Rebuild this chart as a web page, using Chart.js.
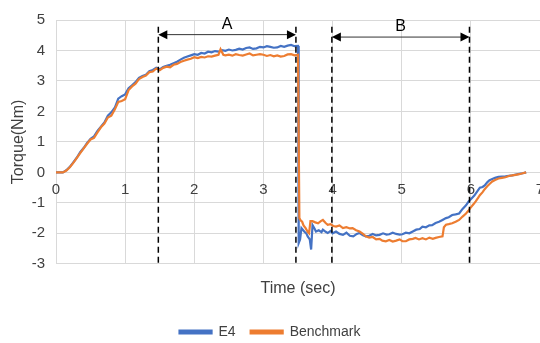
<!DOCTYPE html>
<html>
<head>
<meta charset="utf-8">
<script src="https://cdn.jsdelivr.net/npm/chart.js@4"></script>
<style>
html, body { margin: 0; padding: 0; background: #fff; }
#wrap { width: 540px; height: 343px; }
</style>
</head>
<body>
<div id="wrap"><canvas id="torqueChart"></canvas></div>
<script>
// Torque vs time, E4 against Benchmark
const seriesNames = ['E4', 'Benchmark'];
const seriesColors = ['#4472C4', '#ED7D31'];
const xTicks = [0, 1, 2, 3, 4, 5, 6, 7];
const yTicks = [-3, -2, -1, 0, 1, 2, 3, 4, 5];

// [time (sec), torque (Nm)]
const e4Points = [
  [0, 0], [0.05, 0], [0.1, 0], [0.15, 0.07], [0.2, 0.18], [0.25, 0.33], [0.3, 0.48], [0.35, 0.66],
  [0.4, 0.8], [0.45, 0.97], [0.5, 1.1], [0.55, 1.18], [0.6, 1.36], [0.65, 1.5], [0.7, 1.64], [0.75, 1.86],
  [0.8, 1.97], [0.85, 2.12], [0.9, 2.42], [0.95, 2.5], [1.0, 2.56], [1.05, 2.76], [1.1, 2.86], [1.15, 2.96],
  [1.2, 3.1], [1.25, 3.16], [1.3, 3.2], [1.35, 3.32], [1.4, 3.36], [1.45, 3.43], [1.5, 3.38], [1.55, 3.46],
  [1.6, 3.5], [1.65, 3.53], [1.7, 3.58], [1.75, 3.63], [1.8, 3.7], [1.85, 3.76], [1.9, 3.8], [1.95, 3.84],
  [2.0, 3.88], [2.05, 3.86], [2.1, 3.92], [2.15, 3.9], [2.2, 3.96], [2.25, 3.94], [2.3, 3.98], [2.35, 3.96],
  [2.4, 4.01], [2.45, 3.99], [2.5, 4.03], [2.55, 4.0], [2.6, 4.02], [2.65, 4.06], [2.7, 4.03], [2.75, 4.08],
  [2.8, 4.1], [2.85, 4.05], [2.9, 4.07], [2.95, 4.12], [3.0, 4.1], [3.05, 4.14], [3.1, 4.12], [3.15, 4.09],
  [3.2, 4.1], [3.25, 4.15], [3.3, 4.12], [3.35, 4.16], [3.4, 4.18], [3.45, 4.14], [3.5, 4.15],
  [3.51, -2.32], [3.53, -2.2], [3.55, -1.83], [3.59, -1.94], [3.62, -2.0], [3.64, -2.1], [3.67, -2.2],
  [3.69, -2.53], [3.71, -1.73], [3.74, -1.85], [3.76, -1.94], [3.8, -1.9], [3.84, -1.96], [3.86, -1.88],
  [3.9, -1.95], [3.93, -1.99], [3.97, -1.92], [4.0, -2.0], [4.05, -1.94], [4.1, -2.02], [4.15, -2.05],
  [4.2, -1.98], [4.25, -2.08], [4.3, -2.1], [4.35, -2.02], [4.39, -1.99], [4.44, -2.06], [4.48, -2.1],
  [4.53, -2.08], [4.58, -2.02], [4.63, -2.07], [4.68, -2.05], [4.73, -2.0], [4.78, -2.04], [4.82, -2.03],
  [4.87, -1.98], [4.92, -2.02], [4.97, -2.04], [5.01, -2.03], [5.06, -1.98], [5.11, -2.0], [5.16, -1.94],
  [5.21, -1.88], [5.26, -1.86], [5.3, -1.78], [5.35, -1.8], [5.4, -1.74], [5.44, -1.73], [5.49, -1.66],
  [5.54, -1.62], [5.59, -1.56], [5.64, -1.5], [5.68, -1.47], [5.73, -1.4], [5.78, -1.38], [5.83, -1.35],
  [5.88, -1.2], [5.93, -1.08], [5.97, -0.95], [6.0, -0.88], [6.05, -0.76], [6.1, -0.6], [6.13, -0.5],
  [6.17, -0.48], [6.2, -0.43], [6.24, -0.32], [6.27, -0.26], [6.31, -0.22], [6.35, -0.18], [6.4, -0.15],
  [6.45, -0.14], [6.5, -0.13], [6.55, -0.11], [6.6, -0.1], [6.65, -0.07], [6.7, -0.05], [6.75, -0.03], [6.8, 0]
];

const benchPoints = [
  [0, 0], [0.05, 0], [0.1, 0], [0.15, 0.06], [0.2, 0.17], [0.25, 0.31], [0.3, 0.47], [0.35, 0.63],
  [0.4, 0.79], [0.45, 0.94], [0.5, 1.08], [0.55, 1.13], [0.6, 1.31], [0.65, 1.48], [0.7, 1.6], [0.75, 1.8],
  [0.8, 1.86], [0.85, 2.06], [0.9, 2.31], [0.95, 2.34], [1.0, 2.4], [1.05, 2.7], [1.1, 2.82], [1.15, 2.91],
  [1.2, 3.06], [1.25, 3.13], [1.3, 3.18], [1.35, 3.29], [1.4, 3.31], [1.45, 3.41], [1.5, 3.35], [1.55, 3.43],
  [1.6, 3.47], [1.65, 3.45], [1.7, 3.53], [1.75, 3.56], [1.8, 3.62], [1.85, 3.66], [1.9, 3.7], [1.95, 3.73],
  [2.0, 3.78], [2.05, 3.75], [2.1, 3.79], [2.15, 3.77], [2.2, 3.81], [2.25, 3.8], [2.3, 3.83], [2.35, 3.86],
  [2.38, 4.04], [2.42, 3.86], [2.45, 3.84], [2.5, 3.86], [2.55, 3.83], [2.6, 3.88], [2.65, 3.85], [2.7, 3.83],
  [2.75, 3.87], [2.8, 3.9], [2.85, 3.84], [2.9, 3.86], [2.95, 3.88], [3.0, 3.86], [3.05, 3.82], [3.1, 3.85],
  [3.15, 3.81], [3.2, 3.84], [3.25, 3.8], [3.3, 3.82], [3.35, 3.87], [3.4, 3.88], [3.45, 3.84], [3.5, 3.86],
  [3.52, -1.5], [3.54, -1.58], [3.56, -1.62], [3.58, -1.74], [3.61, -1.83], [3.64, -1.95], [3.66, -2.0],
  [3.68, -1.6], [3.71, -1.6], [3.75, -1.64], [3.79, -1.67], [3.83, -1.6], [3.86, -1.56], [3.9, -1.66],
  [3.93, -1.72], [3.97, -1.7], [4.01, -1.76], [4.05, -1.78], [4.1, -1.74], [4.15, -1.83], [4.2, -1.8],
  [4.25, -1.84], [4.29, -1.83], [4.34, -1.9], [4.39, -1.94], [4.44, -2.02], [4.48, -2.1], [4.53, -2.14],
  [4.58, -2.12], [4.63, -2.2], [4.68, -2.18], [4.72, -2.24], [4.77, -2.26], [4.82, -2.22], [4.87, -2.27],
  [4.92, -2.24], [4.97, -2.2], [5.01, -2.26], [5.06, -2.26], [5.11, -2.2], [5.16, -2.18], [5.2, -2.15],
  [5.25, -2.2], [5.3, -2.16], [5.35, -2.2], [5.4, -2.14], [5.45, -2.18], [5.49, -2.15], [5.54, -2.12],
  [5.59, -2.1], [5.61, -1.8], [5.64, -1.72], [5.68, -1.7], [5.73, -1.67], [5.78, -1.62], [5.83, -1.56],
  [5.88, -1.45], [5.93, -1.35], [5.97, -1.24], [6.0, -1.15], [6.04, -1.04], [6.07, -0.95], [6.1, -0.85],
  [6.13, -0.75], [6.17, -0.65], [6.2, -0.55], [6.24, -0.45], [6.27, -0.38], [6.31, -0.3], [6.35, -0.25],
  [6.4, -0.2], [6.45, -0.18], [6.5, -0.16], [6.55, -0.12], [6.6, -0.1], [6.65, -0.08], [6.7, -0.06],
  [6.75, -0.03], [6.8, 0]
];

// dashed boundaries and the A / B spans
const dashTimes = [1.48, 3.47, 3.99, 5.98];
const dashTop = 4.78;
const spanLabels = ['A', 'B'];
const spanStart = [1.48, 3.99];
const spanEnd = [3.47, 5.98];
const spanLevel = [4.52, 4.44];

const textColor = '#404040';
const gridColor = '#d9d9d9';
const fontFamily = '"Liberation Sans", Arial, sans-serif';
Chart.defaults.font.family = fontFamily;
Chart.defaults.color = textColor;

const toXY = pts => pts.map(p => ({ x: p[0], y: p[1] }));

const markers = {
  id: 'markers',
  afterDatasetsDraw(chart) {
    const { ctx, scales: { x, y } } = chart;
    ctx.save();
    ctx.strokeStyle = '#000';
    ctx.lineWidth = 1.5;
    ctx.setLineDash([6, 4]);
    dashTimes.forEach(t => {
      const px = x.getPixelForValue(t);
      ctx.beginPath();
      ctx.moveTo(px, y.getPixelForValue(dashTop));
      ctx.lineTo(px, y.getPixelForValue(-3));
      ctx.stroke();
    });
    ctx.setLineDash([]);
    ctx.lineWidth = 1;
    spanLabels.forEach((lab, i) => {
      const x1 = x.getPixelForValue(spanStart[i]);
      const x2 = x.getPixelForValue(spanEnd[i]);
      const py = y.getPixelForValue(spanLevel[i]);
      ctx.strokeStyle = '#333';
      ctx.beginPath();
      ctx.moveTo(x1 + 8, py);
      ctx.lineTo(x2 - 8, py);
      ctx.stroke();
      ctx.fillStyle = '#000';
      ctx.beginPath();
      ctx.moveTo(x1, py); ctx.lineTo(x1 + 9, py - 4.5); ctx.lineTo(x1 + 9, py + 4.5); ctx.closePath();
      ctx.fill();
      ctx.beginPath();
      ctx.moveTo(x2, py); ctx.lineTo(x2 - 9, py - 4.5); ctx.lineTo(x2 - 9, py + 4.5); ctx.closePath();
      ctx.fill();
      ctx.font = '16px ' + fontFamily;
      ctx.textAlign = 'center';
      ctx.textBaseline = 'bottom';
      ctx.fillStyle = '#000';
      ctx.fillText(lab, (x1 + x2) / 2, py - 2);
    });
    ctx.restore();
  },
  afterDraw(chart) {
    const { ctx, chartArea } = chart;
    ctx.save();
    ctx.translate(19, (chartArea.top + chartArea.bottom) / 2);
    ctx.rotate(-Math.PI / 2);
    ctx.font = '16px ' + fontFamily;
    ctx.fillStyle = textColor;
    ctx.textAlign = 'center';
    ctx.textBaseline = 'middle';
    ctx.fillText('Torque(Nm)', 0, 0);
    ctx.restore();
  }
};

new Chart(document.getElementById('torqueChart'), {
  type: 'line',
  data: {
    datasets: [
      { label: seriesNames[0], data: toXY(e4Points), borderColor: seriesColors[0], backgroundColor: seriesColors[0], order: 1 },
      { label: seriesNames[1], data: toXY(benchPoints), borderColor: seriesColors[1], backgroundColor: seriesColors[1], order: 0 }
    ]
  },
  options: {
    responsive: true,
    maintainAspectRatio: false,
    animation: false,
    devicePixelRatio: 1,
    elements: { point: { radius: 0 }, line: { borderWidth: 2.2, tension: 0 } },
    layout: { padding: { top: 14, right: 0, left: 0, bottom: -6 } },
    scales: {
      x: {
        type: 'linear',
        position: { y: 0 },
        min: 0, max: 7,
        afterBuildTicks: s => { s.ticks = xTicks.map(v => ({ value: v })); },
        afterFit: s => { s.paddingRight = 0; s.paddingLeft = 0; },
        ticks: { padding: 8, font: { size: 15 }, color: textColor },
        grid: { color: gridColor, drawTicks: false },
        border: { display: false }
      },
      xt: {
        type: 'linear',
        position: 'bottom',
        min: 0, max: 7,
        ticks: { display: false },
        grid: { display: false, drawTicks: false },
        border: { display: false },
        title: { display: true, text: 'Time (sec)', font: { size: 16 }, color: textColor, padding: { top: 15, bottom: 12 } }
      },
      y: {
        min: -3, max: 5,
        afterBuildTicks: s => { s.ticks = yTicks.map(v => ({ value: v })); },
        afterFit: s => { s.width = 56; },
        ticks: { padding: 11, font: { size: 15 }, color: textColor },
        grid: { color: gridColor, drawTicks: false },
        border: { display: false }
      }
    },
    plugins: {
      legend: {
        position: 'bottom',
        labels: {
          boxWidth: 32, boxHeight: 3, padding: 15,
          font: { size: 14 }, color: textColor,
          sort: (a, b) => a.datasetIndex - b.datasetIndex
        }
      },
      tooltip: { enabled: false }
    }
  },
  plugins: [markers]
});
</script>
</body>
</html>
